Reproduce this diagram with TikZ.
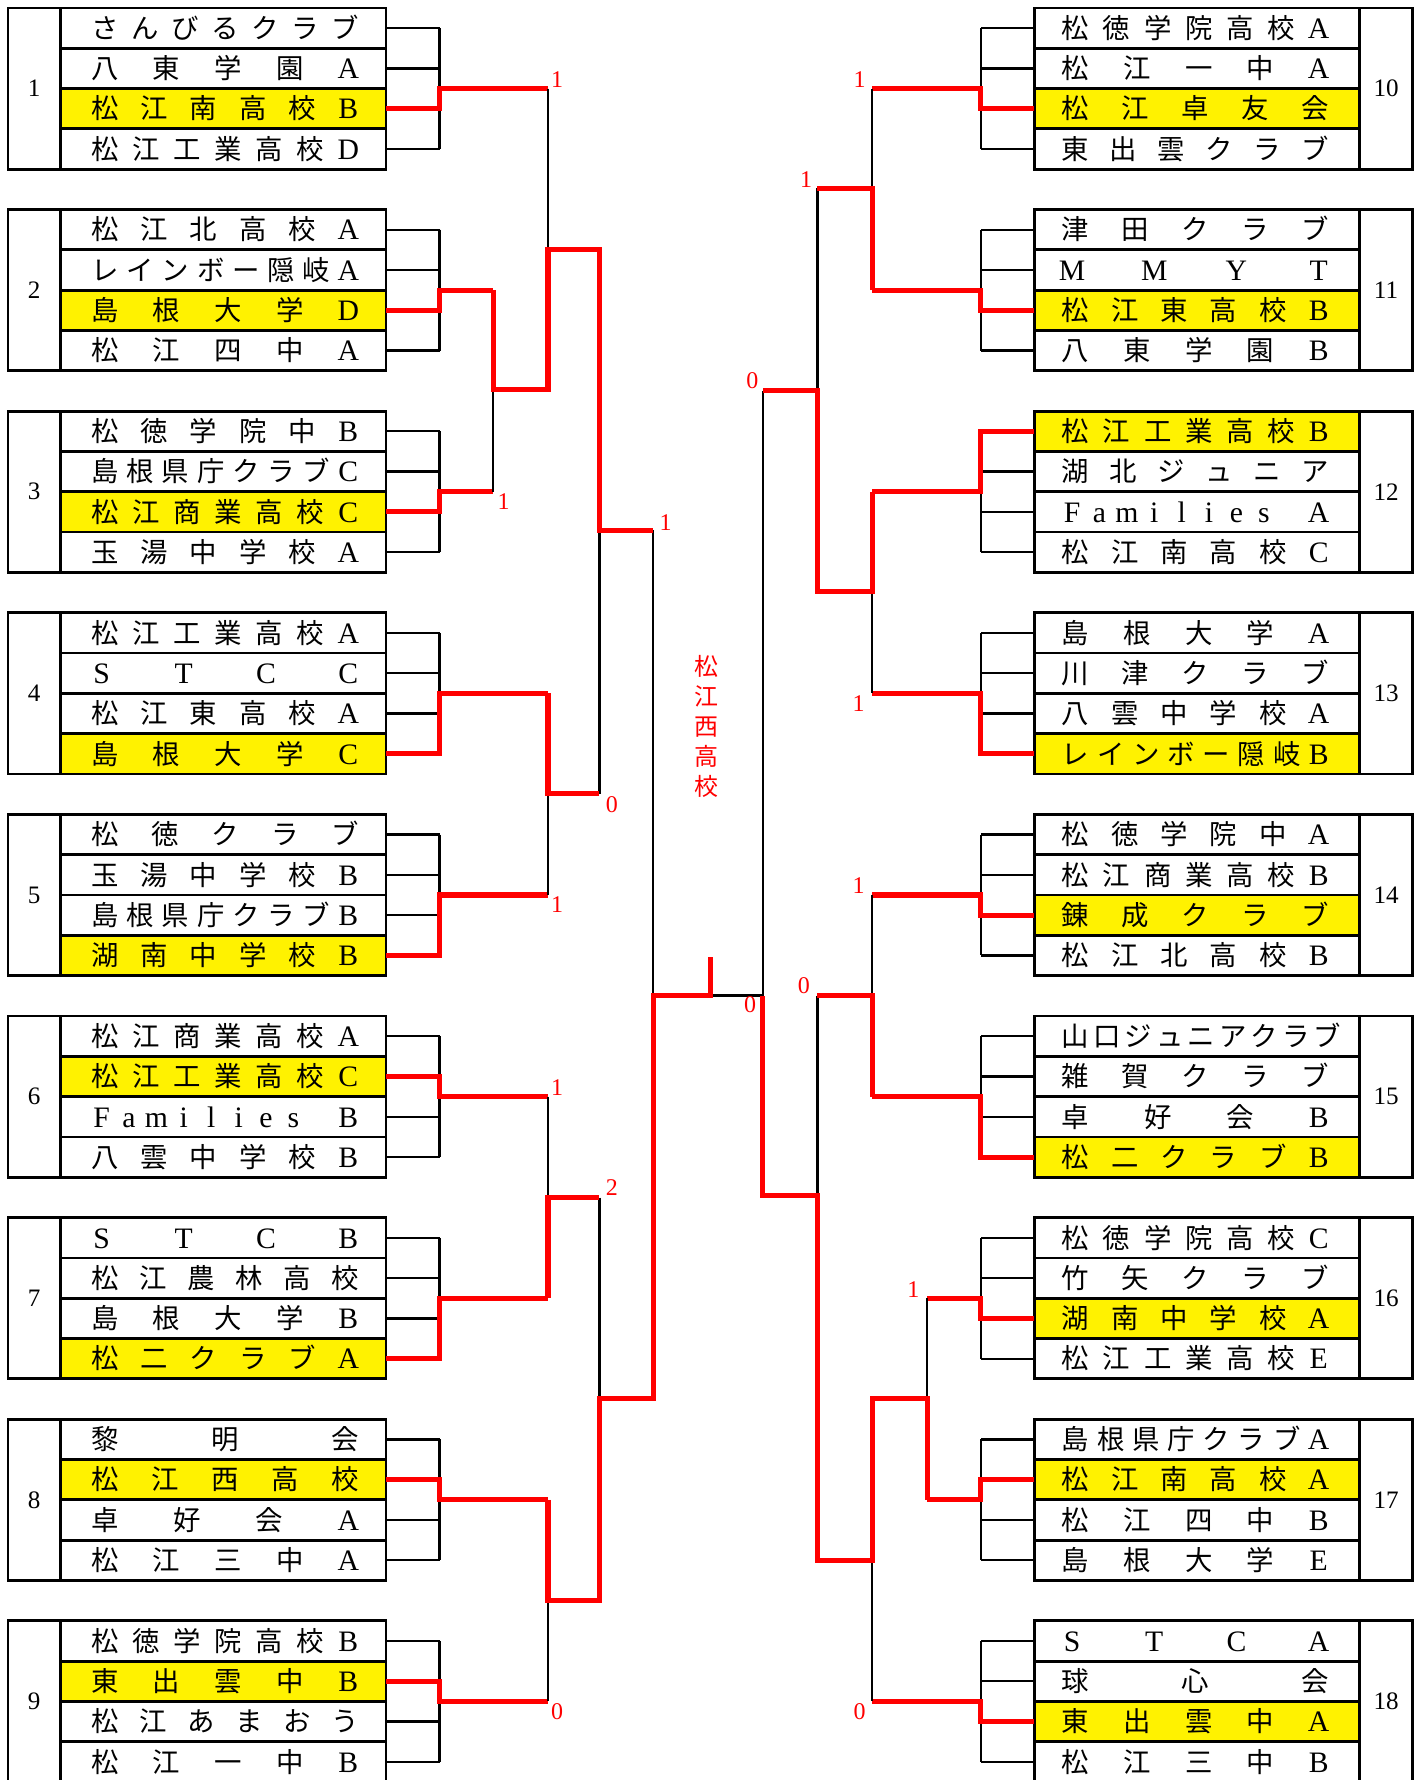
\documentclass[tikz,border=0pt]{standalone}
\usepackage{fontspec}
\setmainfont{Liberation Serif}
\newfontfamily\cjk{Noto Sans CJK JP}
\usetikzlibrary{calc}

\tikzset{
  frame/.style={line width=2.4pt},
  tie/.style={line width=2pt},
  won/.style={red,line width=4.5pt},
  team/.style={inner sep=0pt,text height=20pt,text depth=2pt,font=\cjk\fontsize{24}{24}\selectfont},
  gnum/.style={inner sep=0pt,font=\fontsize{22}{22}\selectfont},
  score/.style={red,inner sep=0pt,font=\fontsize{21}{21}\selectfont}
}
% latin letter in a fixed cell
\newcommand\lt[1]{\makebox[18pt]{\rmfamily\fontsize{26}{26}\selectfont #1}}

% pool of four: number, top, winner row, output x, four names
\newcommand\teampool[8]{%
  \begin{scope}[shift={(0,#2)}]
    \fill[yellow] (53,#3*35.5-35.5) rectangle (338,#3*35.5);
    \foreach \nm [count=\rw] in {#5,#6,#7,#8} {
      \node[team] (t#1-\rw) at (197,\rw*35.5-17.75) {\makebox[234pt][s]{\nm}};
      \coordinate (e#1-\rw) at (338,\rw*35.5-17.75);
      \draw[tie] (e#1-\rw) -- ++(47,0);
    }
    \draw[frame] (7,0) rectangle (338,142) (53,0) -- (53,142)
      (53,35.5) -- (338,35.5) (53,71) -- (338,71) (53,106.5) -- (338,106.5);
    \node[gnum] (n#1) at (30,71) {#1};
    \draw[tie] (385,17.75) -- (385,124.25);
    \coordinate (o#1) at (#4,71);
    \draw[won] (e#1-#3) -| (385,71) -- (o#1);
  \end{scope}}

\begin{document}
\begin{tikzpicture}[x=1pt,y=-0.9943pt]
  \useasboundingbox (0,0) rectangle (1240,1568);
  % left side
  \teampool{1}{7}{3}{480}{さ ん び る ク ラ ブ}{八 東 学 園 \lt{A}}{松 江 南 高 校 \lt{B}}{松 江 工 業 高 校 \lt{D}}
  \teampool{2}{184.6}{3}{432}{松 江 北 高 校 \lt{A}}{レ イ ン ボ ー 隠 岐 \lt{A}}{島 根 大 学 \lt{D}}{松 江 四 中 \lt{A}}
  \teampool{3}{362.2}{3}{432}{松 徳 学 院 中 \lt{B}}{島 根 県 庁 ク ラ ブ \lt{C}}{松 江 商 業 高 校 \lt{C}}{玉 湯 中 学 校 \lt{A}}
  \teampool{4}{539.8}{4}{480}{松 江 工 業 高 校 \lt{A}}{\lt{S} \lt{T} \lt{C} \lt{C}}{松 江 東 高 校 \lt{A}}{島 根 大 学 \lt{C}}
  \teampool{5}{717.4}{4}{480}{松 徳 ク ラ ブ}{玉 湯 中 学 校 \lt{B}}{島 根 県 庁 ク ラ ブ \lt{B}}{湖 南 中 学 校 \lt{B}}
  \teampool{6}{895}{2}{480}{松 江 商 業 高 校 \lt{A}}{松 江 工 業 高 校 \lt{C}}{\lt{F} \lt{a} \lt{m} \lt{i} \lt{l} \lt{i} \lt{e} \lt{s} \lt{} \lt{B}}{八 雲 中 学 校 \lt{B}}
  \teampool{7}{1072.6}{4}{480}{\lt{S} \lt{T} \lt{C} \lt{B}}{松 江 農 林 高 校}{島 根 大 学 \lt{B}}{松 二 ク ラ ブ \lt{A}}
  \teampool{8}{1250.2}{2}{480}{黎 明 会}{松 江 西 高 校}{卓 好 会 \lt{A}}{松 江 三 中 \lt{A}}
  \teampool{9}{1427.8}{2}{480}{松 徳 学 院 高 校 \lt{B}}{東 出 雲 中 \lt{B}}{松 江 あ ま お う}{松 江 一 中 \lt{B}}
  % right side, mirrored
  \begin{scope}[xshift=1244pt,xscale=-1]
  \teampool{10}{7}{3}{480}{松 徳 学 院 高 校 \lt{A}}{松 江 一 中 \lt{A}}{松 江 卓 友 会}{東 出 雲 ク ラ ブ}
  \teampool{11}{184.6}{3}{480}{津 田 ク ラ ブ}{\lt{M} \lt{M} \lt{Y} \lt{T}}{松 江 東 高 校 \lt{B}}{八 東 学 園 \lt{B}}
  \teampool{12}{362.2}{1}{480}{松 江 工 業 高 校 \lt{B}}{湖 北 ジ ュ ニ ア}{\lt{F} \lt{a} \lt{m} \lt{i} \lt{l} \lt{i} \lt{e} \lt{s} \lt{} \lt{A}}{松 江 南 高 校 \lt{C}}
  \teampool{13}{539.8}{4}{480}{島 根 大 学 \lt{A}}{川 津 ク ラ ブ}{八 雲 中 学 校 \lt{A}}{レ イ ン ボ ー 隠 岐 \lt{B}}
  \teampool{14}{717.4}{3}{480}{松 徳 学 院 中 \lt{A}}{松 江 商 業 高 校 \lt{B}}{錬 成 ク ラ ブ}{松 江 北 高 校 \lt{B}}
  \teampool{15}{895}{4}{480}{山 口 ジ ュ ニ ア ク ラ ブ}{雑 賀 ク ラ ブ}{卓 好 会 \lt{B}}{松 二 ク ラ ブ \lt{B}}
  \teampool{16}{1072.6}{3}{432}{松 徳 学 院 高 校 \lt{C}}{竹 矢 ク ラ ブ}{湖 南 中 学 校 \lt{A}}{松 江 工 業 高 校 \lt{E}}
  \teampool{17}{1250.2}{2}{432}{島 根 県 庁 ク ラ ブ \lt{A}}{松 江 南 高 校 \lt{A}}{松 江 四 中 \lt{B}}{島 根 大 学 \lt{E}}
  \teampool{18}{1427.8}{3}{480}{\lt{S} \lt{T} \lt{C} \lt{A}}{球 心 会}{東 出 雲 中 \lt{A}}{松 江 三 中 \lt{B}}
  \end{scope}

  % bracket points
  \path (432,343) coordinate (m23) (480,343) coordinate (p23)
    (480,220) coordinate (m123) (525,220) coordinate (p123)
    (480,699) coordinate (m45) (525,699) coordinate (p45)
    (525,467) coordinate (m15) (572,467) coordinate (p15)
    (480,1055) coordinate (m67) (525,1055) coordinate (p67)
    (480,1410) coordinate (m89) (525,1410) coordinate (p89)
    (525,1232) coordinate (m69) (572,1232) coordinate (p69)
    (572,877) coordinate (mL) (622,877) coordinate (pL) (622,843) coordinate (top);
  \path (764,166) coordinate (m1011) (716,166) coordinate (p1011)
    (764,521) coordinate (m1213) (716,521) coordinate (p1213)
    (716,344) coordinate (m1013) (668,344) coordinate (p1013)
    (764,877) coordinate (m1415) (716,877) coordinate (p1415)
    (812,1232) coordinate (m1617) (764,1232) coordinate (p1617)
    (764,1375) coordinate (m1618) (716,1375) coordinate (p1618)
    (716,1053) coordinate (m1418) (668,1053) coordinate (p1418)
    (668,877) coordinate (mR);

  \draw[tie] (o2) -- (o3) (o1) -- (p23) (o4) -- (o5) (p123) -- (p45)
    (o6) -- (o7) (o8) -- (o9) (p67) -- (p89) (p15) -- (p69) (pL) -- (mR);
  \draw[tie] (o10) -- (o11) (o12) -- (o13) (p1011) -- (p1213) (o14) -- (o15)
    (o16) -- (o17) (p1617) -- (o18) (p1415) -- (p1618) (p1013) -- (p1418);

  \draw[won] (o2) -- (m23) -- (p23) -- (m123) -- (p123) -- (m15) -- (p15);
  \draw[won] (o4) -- (m45) -- (p45);
  \draw[won] (o7) -- (m67) -- (p67);
  \draw[won] (o8) -- (m89) -- (p89) -- (m69) -- (p69) -- (mL) -- (pL) -- (top);
  \draw[won] (o11) -- (m1011) -- (p1011);
  \draw[won] (o12) -- (m1213) -- (p1213) -- (m1013) -- (p1013);
  \draw[won] (o15) -- (m1415) -- (p1415);
  \draw[won] (o17) -- (m1617) -- (p1617) -- (m1618) -- (p1618) -- (m1418) -- (p1418) -- (mR);

  % scores
  \node[score] (s1) at (488,70) {1};
  \node[score] (s2) at (441,442) {1};
  \node[score] (s3) at (583,460) {1};
  \node[score] (s4) at (536,709) {0};
  \node[score] (s5) at (488,797) {1};
  \node[score] (s6) at (488,958) {1};
  \node[score] (s7) at (536,1046) {2};
  \node[score] (s8) at (488,1508) {0};
  \node[score] (s9) at (657,885) {0};
  \node[score] (s10) at (753,70) {1};
  \node[score] (s11) at (706,158) {1};
  \node[score] (s12) at (659,335) {0};
  \node[score] (s13) at (752,620) {1};
  \node[score] (s14) at (752,780) {1};
  \node[score] (s15) at (704,868) {0};
  \node[score] (s16) at (800,1136) {1};
  \node[score] (s17) at (753,1508) {0};

  \node[red,align=center,font=\cjk\fontsize{21}{26.4}\selectfont] (champ) at (619,640) {松\\江\\西\\高\\校};
\end{tikzpicture}
\end{document}
